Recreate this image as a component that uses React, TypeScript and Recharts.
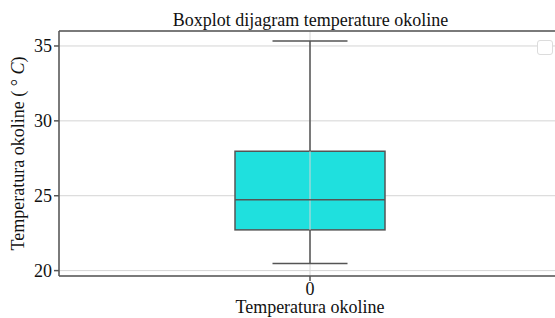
import React from "react";
import { ComposedChart, Bar, XAxis, YAxis, CartesianGrid, ReferenceLine } from "recharts";

const categories = ["0"];
const whiskerLow = [20.47];
const q1 = [22.72];
const median = [24.73];
const q3 = [27.97];
const whiskerHigh = [35.33];
const yTicks = [20, 25, 30, 35];
const yDomain: [number, number] = [19.64, 36.0];

const rows = categories.map((name, i) => ({
  name,
  box: [q1[i], q3[i]],
  lo: whiskerLow[i],
  med: median[i],
  hi: whiskerHigh[i],
}));

const FONT = "'Liberation Serif', 'Times New Roman', serif";
const FS = 18;
const EDGE = "#555555";
const GRID = "#d4d4d4";

function BoxShape(props: any) {
  const { x, y, width, height, payload } = props;
  const [bLo, bHi] = payload.box;
  const h = Math.abs(height);
  const top = height < 0 ? y + height : y;
  const ppu = h / (bHi - bLo);
  const yOf = (v: number) => top + (bHi - v) * ppu;
  const cx = x + width / 2;
  const capHalf = width / 4;
  return (
    <g>
      <line x1={cx} x2={cx} y1={yOf(payload.hi)} y2={top} stroke={EDGE} strokeWidth={1.5} />
      <line x1={cx} x2={cx} y1={top + h} y2={yOf(payload.lo)} stroke={EDGE} strokeWidth={1.5} />
      <line x1={cx - capHalf} x2={cx + capHalf} y1={yOf(payload.hi)} y2={yOf(payload.hi)} stroke={EDGE} strokeWidth={1.5} />
      <line x1={cx - capHalf} x2={cx + capHalf} y1={yOf(payload.lo)} y2={yOf(payload.lo)} stroke={EDGE} strokeWidth={1.5} />
      <rect x={x} y={top} width={width} height={h} fill="#1fe0de" stroke={EDGE} strokeWidth={1.5} />
      <line x1={cx} x2={cx} y1={top} y2={top + h} stroke={GRID} strokeWidth={1} />
      <line x1={x} x2={x + width} y1={yOf(payload.med)} y2={yOf(payload.med)} stroke={EDGE} strokeWidth={1.5} />
    </g>
  );
}

function YLabel(props: any) {
  const vb = props.viewBox;
  const cy = vb.y + vb.height / 2;
  const cx = 18;
  return (
    <text x={cx} y={cy} transform={`rotate(-90 ${cx} ${cy})`} textAnchor="middle" dominantBaseline="central"
      style={{ fontFamily: FONT }} fontSize={FS} fill="#111">
      Temperatura okoline ( ° <tspan fontStyle="italic">C</tspan>)
    </text>
  );
}

function XLabel(props: any) {
  const vb = props.viewBox;
  return (
    <text x={vb.x + vb.width / 2} y={313} textAnchor="middle" style={{ fontFamily: FONT }} fontSize={FS} fill="#111">
      Temperatura okoline
    </text>
  );
}

const tickStyle = { fontFamily: FONT, fontSize: FS, fill: "#111", style: { fontFamily: FONT } };

export default function App() {
  return (
    <div style={{ position: "absolute", left: 0, top: 0, width: 555, height: 318, overflow: "hidden", background: "#fff", fontFamily: FONT }}>
      <div style={{ position: "absolute", left: 0, top: 10, width: 555, textAlign: "center", fontFamily: FONT, fontSize: FS, color: "#111", lineHeight: "20px" }}>
        <span style={{ position: "relative", left: 33 }}>Boxplot dijagram temperature okoline</span>
      </div>
      <div style={{ position: "absolute", left: 537, top: 40, width: 14, height: 13, border: "1px solid #dcdcdc", borderRadius: 3, zIndex: 2, background: "#fff" }} />
      <ComposedChart width={570} height={318} data={rows} margin={{ top: 31, right: 9, bottom: 0, left: 0 }}
        style={{ position: "absolute", left: 0, top: 0, fontFamily: FONT }}>
        <CartesianGrid stroke={GRID} strokeWidth={1} />
        <XAxis dataKey="name" height={42} stroke={EDGE} strokeWidth={1.5}
          tick={tickStyle} tickSize={5} tickMargin={1}
          label={<XLabel />} />
        <YAxis type="number" domain={yDomain} ticks={yTicks} width={59} stroke={EDGE} strokeWidth={1.5}
          allowDataOverflow tick={tickStyle} tickSize={5} tickMargin={2}
          label={<YLabel />} />
        <ReferenceLine y={yDomain[1]} stroke={EDGE} strokeWidth={1.5} />
        <Bar dataKey="box" barSize={150} shape={<BoxShape />} isAnimationActive={false} legendType="none" />
      </ComposedChart>
    </div>
  );
}
